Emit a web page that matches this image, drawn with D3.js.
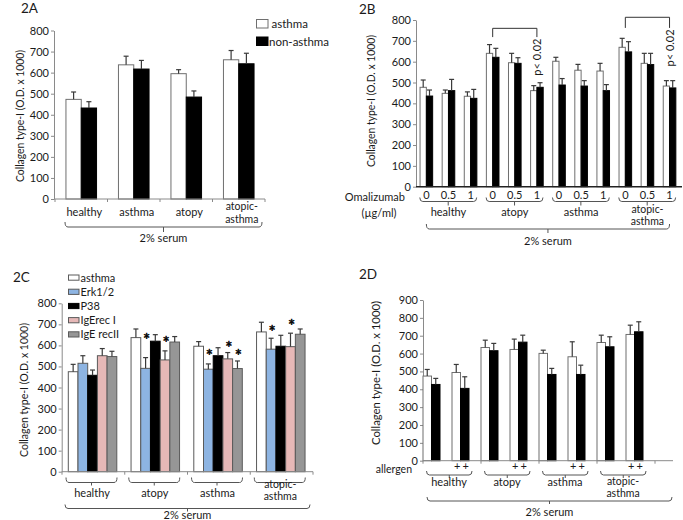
<!DOCTYPE html>
<html><head><meta charset="utf-8">
<script src="https://cdn.jsdelivr.net/npm/d3@7"></script>
<style>
body{margin:0;background:#fff}
svg{display:block}
text{font-family:Lato,"Open Sans",sans-serif;fill:#1a1a1a}
</style>
</head><body>
<svg id="chart" width="683" height="520"></svg>
<script>
// ---------------- DATA ----------------
// Panel 2A
const groupsA = ["healthy", "asthma", "atopy", "atopic-asthma"];
const seriesA = ["asthma", "non-asthma"];
const aAsthma = [473, 637, 595, 661];
const aAsthmaErr = [35, 41, 19, 44];
const aNonAsthma = [432, 617, 484, 642];
const aNonAsthmaErr = [30, 41, 29, 50];
const ticksA = [0, 100, 200, 300, 400, 500, 600, 700, 800];

// Panel 2B
const groupsB = ["healthy", "atopy", "asthma", "atopic-asthma"];
const dosesB = ["0", "0.5", "1"];
const bAsthma = [477, 448, 434, 640, 595, 461, 602, 559, 555, 669, 592, 483];
const bAsthmaErr = [35, 16, 21, 42, 45, 24, 19, 28, 37, 43, 48, 26];
const bNonAsthma = [435, 461, 424, 621, 592, 477, 488, 483, 461, 647, 586, 474];
const bNonAsthmaErr = [29, 54, 43, 43, 27, 22, 31, 26, 29, 49, 54, 35];
const ticksB = [0, 100, 200, 300, 400, 500, 600, 700, 800];
// significance brackets: [from slot, to slot, bracket level, leg end level]
const bracketsB = [[3, 5, 760, 718], [9, 11, 813, 762]];
const pLabelB = "p< 0.02";

// Panel 2C
const groupsC = ["healthy", "atopy", "asthma", "atopic-asthma"];
const seriesC = ["asthma", "Erk1/2", "P38", "IgErec I", "IgE recII"];
const colorsC = ["#ffffff", "#8db4e2", "#000000", "#e6b8b7", "#969696"];
const cValues = [
  [475, 637, 596, 664],   // asthma
  [515, 491, 487, 582],   // Erk1/2
  [458, 620, 551, 596],   // P38
  [551, 531, 536, 594],   // IgErec I
  [547, 616, 490, 653]    // IgE recII
];
const cErrors = [
  [35, 41, 22, 46],
  [36, 51, 25, 52],
  [25, 31, 38, 52],
  [34, 43, 30, 64],
  [25, 26, 36, 25]
];
// stars: [group index, series index, level]
const starsC = [[1, 1, 640], [1, 3, 626], [2, 1, 563], [2, 3, 602], [2, 4, 563], [3, 1, 677], [3, 3, 705]];
const ticksC = [0, 100, 200, 300, 400, 500, 600, 700, 800];

// Panel 2D
const groupsD = ["healthy", "atopy", "asthma", "atopic-asthma"];
const allergenD = ["", "+"];
const dAsthma = [474, 494, 634, 623, 601, 582, 662, 707];
const dAsthmaErr = [37, 45, 41, 58, 18, 84, 41, 52];
const dNonAsthma = [427, 405, 616, 664, 483, 483, 638, 722];
const dNonAsthmaErr = [34, 65, 41, 39, 34, 52, 56, 56];
const ticksD = [0, 100, 200, 300, 400, 500, 600, 700, 800, 900];

const yTitle = "Collagen type-I (O.D. x 1000)";
const serumLabel = "2% serum";

// ---------------- HELPERS ----------------
const svg = d3.select("#chart");
svg.append("rect").attr("width", 683).attr("height", 520).attr("fill", "#fff");

const AX = "#8a8a8a", BAR_STROKE = "#6f6f6f", ERR = "#3a3a3a";

function yAxis(g, y, x, ticks) {
  const a = g.append("g").attr("transform", `translate(${x},0)`)
    .call(d3.axisLeft(y).tickValues(ticks).tickSize(3).tickSizeOuter(0).tickPadding(2));
  a.select(".domain").attr("stroke", AX);
  a.selectAll(".tick line").attr("stroke", AX);
  a.selectAll(".tick text").attr("font-size", 11).attr("font-family", "Lato").attr("fill", "#1a1a1a");
  return a;
}
function yLabel(g, cx, cy, len) {
  g.append("text").attr("transform", `translate(${cx},${cy}) rotate(-90)`)
    .attr("text-anchor", "middle").attr("dominant-baseline", "middle")
    .attr("font-size", 11).attr("textLength", len).attr("lengthAdjust", "spacingAndGlyphs")
    .text(yTitle);
}
function errbar(g, cx, yTop, yEnd) {
  g.append("line").attr("x1", cx).attr("x2", cx).attr("y1", yTop).attr("y2", yEnd)
    .attr("stroke", ERR).attr("stroke-width", 1.2);
  g.append("line").attr("x1", cx - 2.5).attr("x2", cx + 2.5).attr("y1", yEnd).attr("y2", yEnd)
    .attr("stroke", ERR).attr("stroke-width", 1.2);
}
function bar(g, x, w, y, y0, fill, stroke) {
  g.append("rect").attr("x", x).attr("y", y).attr("width", w).attr("height", y0 - y)
    .attr("fill", fill).attr("stroke", stroke || BAR_STROKE).attr("stroke-width", 1);
}
function brace(g, x1, x2, y, hook, tick) {
  const cx = (x1 + x2) / 2;
  g.append("path")
    .attr("d", `M${x1},${y - hook} Q${x1},${y} ${x1 + 3},${y} L${x2 - 3},${y} Q${x2},${y} ${x2},${y - hook} M${cx},${y} L${cx},${y + tick}`)
    .attr("fill", "none").attr("stroke", "#555").attr("stroke-width", 1);
}
function groupLabel(g, name, cx, y, y1, y2) {
  if (name === "atopic-asthma") {
    g.append("text").attr("x", cx).attr("y", y1).attr("text-anchor", "middle").attr("font-size", 10.5).text("atopic-");
    g.append("text").attr("x", cx).attr("y", y2).attr("text-anchor", "middle").attr("font-size", 10.5).text("asthma");
  } else {
    g.append("text").attr("x", cx).attr("y", y).attr("text-anchor", "middle").attr("font-size", 11).text(name);
  }
}
function xBaseline(g, x1, x2, y, ticks, stroke, sw) {
  g.append("line").attr("x1", x1).attr("x2", x2).attr("y1", y).attr("y2", y)
    .attr("stroke", stroke || AX).attr("stroke-width", sw || 1);
  (ticks || []).forEach(t => g.append("line").attr("x1", t).attr("x2", t).attr("y1", y).attr("y2", y + 3)
    .attr("stroke", stroke || AX));
}
function panelTitle(g, t, x, y) {
  g.append("text").attr("x", x).attr("y", y).attr("font-size", 13.5).text(t);
}

// ---------------- PANEL 2A ----------------
{
  const g = svg.append("g");
  const y = d3.scaleLinear().domain([0, 800]).range([199, 30.5]);
  const x = d3.scaleBand().domain(groupsA).range([55, 265]);
  const bw = 15.3;
  panelTitle(g, "2A", 21, 13);
  yAxis(g, y, 54, ticksA);
  yLabel(g, 21, 116, 132);
  groupsA.forEach((grp, i) => {
    const c = x(grp) + x.bandwidth() / 2;
    bar(g, c - bw, bw, y(aAsthma[i]), y(0), "#fff");
    bar(g, c, bw, y(aNonAsthma[i]), y(0), "#000", "#000");
    errbar(g, c - bw / 2, y(aAsthma[i]), y(aAsthma[i] + aAsthmaErr[i]));
    errbar(g, c + bw / 2, y(aNonAsthma[i]), y(aNonAsthma[i] + aNonAsthmaErr[i]));
    groupLabel(g, grp, c + 3, 216, 210, 222.5);
  });
  xBaseline(g, 54, 265, y(0), groupsA.map(d => x(d)).concat([265]));
  brace(g, 65, 262, 227, 5, 5);
  g.append("text").attr("x", 163.5).attr("y", 242).attr("text-anchor", "middle").attr("font-size", 11).text(serumLabel);
  // legend
  const lg = g.append("g");
  seriesA.forEach((s, i) => {
    lg.append("rect").attr("x", 256.5).attr("y", 19.5 + i * 17.5).attr("width", 11.5).attr("height", 8.5)
      .attr("fill", i === 0 ? "#fff" : "#000").attr("stroke", i === 0 ? BAR_STROKE : "#000");
    lg.append("text").attr("x", i === 0 ? 271.5 : 269).attr("y", 28 + i * 17.5).attr("font-size", 11.5).text(s);
  });
}

// ---------------- PANEL 2B ----------------
{
  const g = svg.append("g");
  const y = d3.scaleLinear().domain([0, 800]).range([186.7, 20]);
  const slots = groupsB.flatMap(gr => dosesB.map(d => gr + "|" + d));
  const x = d3.scaleBand().domain(slots).range([415.3, 680.6]);
  const bw = 6.3;
  panelTitle(g, "2B", 359, 14);
  yAxis(g, y, 416, ticksB);
  yLabel(g, 372, 101, 132);
  slots.forEach((s, i) => {
    const c = x(s) + x.bandwidth() / 2;
    bar(g, c - bw, bw, y(bAsthma[i]), y(0), "#fff");
    bar(g, c, bw, y(bNonAsthma[i]), y(0), "#000", "#000");
    errbar(g, c - bw / 2, y(bAsthma[i]), y(bAsthma[i] + bAsthmaErr[i]));
    errbar(g, c + bw / 2, y(bNonAsthma[i]), y(bNonAsthma[i] + bNonAsthmaErr[i]));
    g.append("text").attr("x", c).attr("y", 199).attr("text-anchor", "middle").attr("font-size", 11)
      .text(s.split("|")[1]);
  });
  xBaseline(g, 416, 682, y(0), [], "#222", 1.6);
  groupsB.forEach(grp => {
    const x1 = x(grp + "|0"), x2 = x(grp + "|1") + x.bandwidth();
    brace(g, x1 + 4.5, x2 - 5, 201.5, 4, 4);
    groupLabel(g, grp, (x1 + x2) / 2, 216, 213, 224.5);
  });
  g.append("text").attr("x", 405).attr("y", 201).attr("text-anchor", "end").attr("font-size", 11).text("Omalizumab");
  g.append("text").attr("x", 379).attr("y", 217).attr("text-anchor", "middle").attr("font-size", 11).text("(\u00b5g/ml)");
  const c0 = x(slots[0]) + x.bandwidth() / 2, c1 = x(slots[slots.length - 1]) + x.bandwidth() / 2;
  brace(g, c0, c1, 229, 5, 4);
  g.append("text").attr("x", (c0 + c1) / 2).attr("y", 245).attr("text-anchor", "middle").attr("font-size", 11).text(serumLabel);
  bracketsB.forEach(([a, b, lv, end]) => {
    const xa = x(slots[a]) + x.bandwidth() / 2, xb = x(slots[b]) + x.bandwidth() / 2;
    g.append("path").attr("d", `M${xa},${y(end)} L${xa},${y(lv)} L${xb},${y(lv)} L${xb},${y(end)}`)
      .attr("fill", "none").attr("stroke", "#333").attr("stroke-width", 1);
    const tx = xb + 4.5, ty = y(end) + 20;
    g.append("text").attr("transform", `translate(${tx},${ty}) rotate(-90)`).attr("text-anchor", "middle")
      .attr("font-size", 11).text(pLabelB);
  });
}

// ---------------- PANEL 2C ----------------
{
  const g = svg.append("g");
  const y = d3.scaleLinear().domain([0, 800]).range([471.7, 303.3]);
  const x = d3.scaleBand().domain(groupsC).range([62, 313]);
  const xi = d3.scaleBand().domain(seriesC).range([6.3, 54.8]);
  panelTitle(g, "2C", 13, 282);
  yAxis(g, y, 61.7, ticksC);
  yLabel(g, 25, 390, 134);
  groupsC.forEach((grp, gi) => {
    seriesC.forEach((s, si) => {
      const bx = x(grp) + xi(s), w = xi.bandwidth();
      const v = cValues[si][gi];
      bar(g, bx, w, y(v), y(0), colorsC[si], si === 2 ? "#000" : "#5a5a5a");
      errbar(g, bx + w / 2, y(v), y(v + cErrors[si][gi]));
    });
    brace(g, x(grp) + 4, x(grp) + 55, 482.5, 5, 3);
    groupLabel(g, grp, x(grp) + 30, 497, 488, 499.5);
  });
  xBaseline(g, 61.7, 313, y(0), groupsC.map(d => x(d)).concat([313]));
  starsC.forEach(([gi, si, lv]) => {
    const cx = x(groupsC[gi]) + xi(seriesC[si]) + xi.bandwidth() / 2 + 1;
    g.append("text").attr("x", cx).attr("y", y(lv) + 9).attr("text-anchor", "middle").attr("font-size", 17)
      .style("fill", "#000").style("stroke", "#000").style("stroke-width", 0.5).text("*");
  });
  brace(g, 65, 310, 508.5, 4, 3);
  g.append("text").attr("x", 187.5).attr("y", 518.5).attr("text-anchor", "middle").attr("font-size", 11).text(serumLabel);
  // legend
  seriesC.forEach((s, i) => {
    g.append("rect").attr("x", 68.5).attr("y", 275 + i * 14.2).attr("width", 10.5).attr("height", 5.2)
      .attr("fill", colorsC[i]).attr("stroke", i === 2 ? "#000" : "#5a5a5a");
    g.append("text").attr("x", 80.5).attr("y", 281.5 + i * 14.2).attr("font-size", 11).text(s);
  });
}

// ---------------- PANEL 2D ----------------
{
  const g = svg.append("g");
  const y = d3.scaleLinear().domain([0, 900]).range([460.7, 300]);
  const x = d3.scaleBand().domain(groupsD).range([423, 655]);
  const xi = d3.scaleBand().domain(allergenD).range([0, 58]);
  const bw = 8.5;
  panelTitle(g, "2D", 359, 279);
  yAxis(g, y, 423, ticksD);
  yLabel(g, 377, 373, 144);
  groupsD.forEach((grp, gi) => {
    allergenD.forEach((al, ai) => {
      const i = gi * 2 + ai;
      const bx = x(grp) + xi(al);
      bar(g, bx, bw, y(dAsthma[i]), y(0), "#fff");
      bar(g, bx + bw, bw, y(dNonAsthma[i]), y(0), "#000", "#000");
      errbar(g, bx + bw / 2, y(dAsthma[i]), y(dAsthma[i] + dAsthmaErr[i]));
      errbar(g, bx + bw * 1.5, y(dNonAsthma[i]), y(dNonAsthma[i] + dNonAsthmaErr[i]));
      if (al) {
        g.append("text").attr("x", bx + bw / 2 + 1).attr("y", 470).attr("text-anchor", "middle").attr("font-size", 11).text(al);
        g.append("text").attr("x", bx + bw * 1.5 + 1).attr("y", 470).attr("text-anchor", "middle").attr("font-size", 11).text(al);
      }
    });
    brace(g, x(grp) + 3.5, x(grp) + 49, 475, 4, 3);
    groupLabel(g, grp, x(grp) + 26, 486, 484.5, 496.5);
  });
  xBaseline(g, 423, 673, y(0), groupsD.map(d => x(d)).concat([x(groupsD[3]) + 58]));
  g.append("text").attr("x", 412).attr("y", 472.5).attr("text-anchor", "end").attr("font-size", 10.5).text("allergen");
  brace(g, 427, 672, 501, 4, 3);
  g.append("text").attr("x", 549.5).attr("y", 515.5).attr("text-anchor", "middle").attr("font-size", 11).text(serumLabel);
}
</script>
</body></html>
